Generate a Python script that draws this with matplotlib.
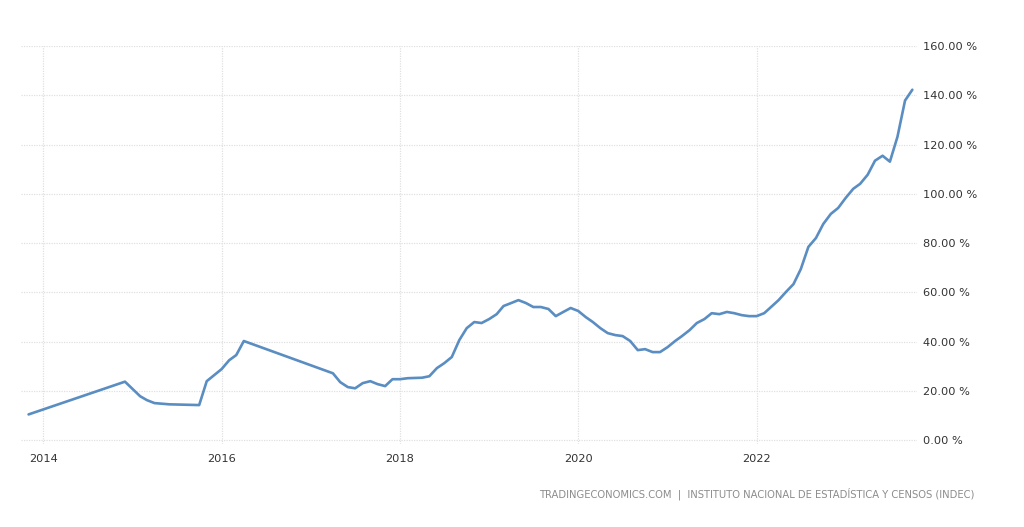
import matplotlib
matplotlib.use("Agg")
import matplotlib.pyplot as plt
import matplotlib.dates as mdates
import pandas as pd

# inflation rate, % year on year (INDEC)
dates = ["2013-11", "2014-12", "2015-02", "2015-03", "2015-04", "2015-06",
         "2015-10", "2015-11", "2016-01", "2016-02", "2016-03", "2016-04",
         "2017-04", "2017-05", "2017-06", "2017-07", "2017-08", "2017-09",
         "2017-10", "2017-11", "2017-12"]
values = [10.5, 23.8, 17.9, 16.3, 15.1, 14.6,
          14.3, 24.0, 28.9, 32.5, 34.6, 40.3,
          27.2, 23.6, 21.6, 21.1, 23.2, 24.0,
          22.8, 22.0, 24.8]

monthly = {
  2018: [24.8, 25.2, 25.3, 25.4, 26.0, 29.3, 31.3, 33.8, 40.7, 45.5, 48.0, 47.6],
  2019: [49.2, 51.2, 54.5, 55.7, 56.9, 55.7, 54.1, 54.1, 53.3, 50.4, 52.1, 53.7],
  2020: [52.5, 50.0, 48.0, 45.5, 43.5, 42.7, 42.3, 40.3, 36.6, 37.0, 35.8, 35.8],
  2021: [37.8, 40.3, 42.3, 44.7, 47.6, 49.2, 51.6, 51.2, 52.1, 51.6, 50.8, 50.4],
  2022: [50.4, 51.6, 54.1, 56.9, 60.2, 63.4, 69.5, 78.5, 82.1, 87.8, 91.9, 94.3],
  2023: [98.4, 102.1, 104.1, 107.8, 113.5, 115.5, 113.1, 123.2, 137.9, 142.3],
}
for yr in monthly:
  for m, v in enumerate(monthly[yr]):
    dates.append("%d-%02d" % (yr, m + 1))
    values.append(v)

yticks = [0, 20, 40, 60, 80, 100, 120, 140, 160]
source = "TRADINGECONOMICS.COM  |  INSTITUTO NACIONAL DE ESTADÍSTICA Y CENSOS (INDEC)"

x = pd.to_datetime(dates)

fig = plt.figure(figsize=(10.24, 5.27), dpi=100)
ax = fig.add_axes([0.0205, 0.1575, 0.875, 0.755])

ax.plot(x, values, color="#5a8dc2", linewidth=1.9, solid_capstyle="round")

ax.set_xlim(pd.Timestamp("2013-10-01"), pd.Timestamp("2023-10-20"))
ax.set_ylim(-1.5, 160)

ax.xaxis.set_major_locator(mdates.YearLocator(2))
ax.xaxis.set_major_formatter(mdates.DateFormatter("%Y"))
ax.set_yticks(yticks)
ax.set_yticklabels(["%.2f %%" % v for v in yticks])
ax.yaxis.tick_right()

ax.tick_params(axis="both", length=0, labelsize=8.2, colors="#333333")
ax.tick_params(axis="x", pad=7)
ax.tick_params(axis="y", pad=4)

ax.grid(True, color="#e0e0e0", linestyle=(0, (1, 1)), linewidth=0.9)
ax.set_axisbelow(True)
for s in ax.spines.values():
  s.set_visible(False)

fig.text(0.952, 0.063, source, ha="right", va="center", fontsize=7.2, color="#8c8c8c")

fig.savefig("out.png", dpi=100)
